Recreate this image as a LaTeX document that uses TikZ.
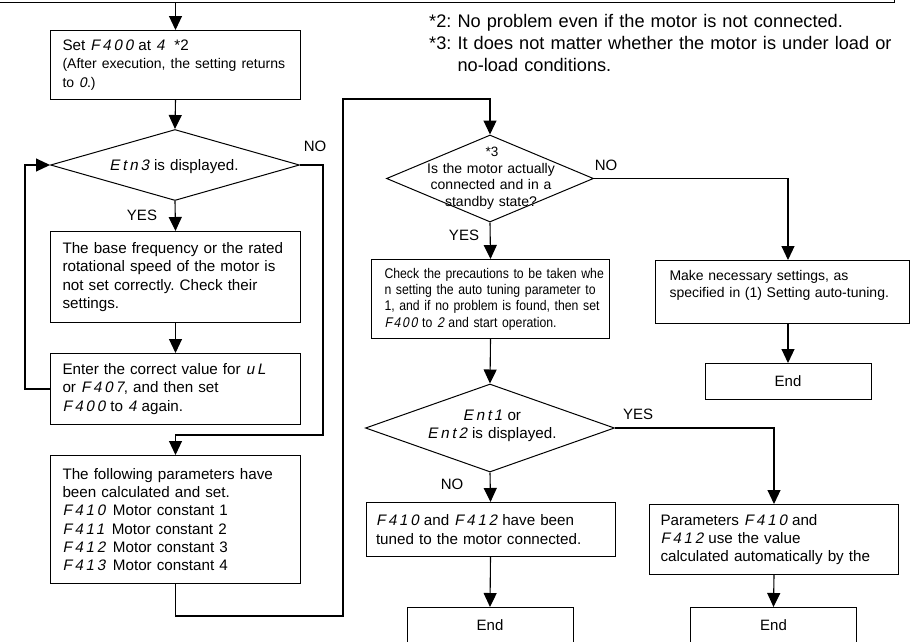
\documentclass[tikz,border=0pt]{standalone}
\usepackage{fontspec}
\setmainfont{Liberation Sans}
\newfontfamily\segfont[FakeSlant=0.2,LetterSpace=18]{Liberation Sans}
\newfontfamily\segnarrow[FakeSlant=0.2,LetterSpace=12,FakeStretch=0.875]{Liberation Sans}
\newfontfamily\narrowfont[FakeStretch=0.875]{Liberation Sans}
\usetikzlibrary{shapes.geometric,arrows.meta,calc}
\frenchspacing
\newcommand\sg[1]{{\segfont #1}}
\newcommand\sgn[1]{{\segnarrow #1}}
\tikzset{
  bx/.style={draw, line width=1pt, inner xsep=0pt, inner ysep=0pt, align=left, anchor=north west, font=\fontsize{15.2}{18.3}\selectfont},
  lpad/.style={execute at begin node={\leftskip=#1pt\relax}},
  dia/.style={draw, diamond, line width=1pt, inner sep=0pt},
  endbox/.style={draw, line width=1pt, minimum width=166pt, minimum height=36pt, inner sep=0pt, font=\fontsize{15}{18}\selectfont},
  conn/.style={line width=1.1pt, -{Triangle[length=14pt,width=13pt]}},
  lbl/.style={font=\fontsize{15}{18}\selectfont, inner sep=0pt},
  dtxt/.style={font=\fontsize{15.2}{18}\selectfont, inner sep=0pt, align=center, text width=220pt, anchor=base},
}
\begin{document}
\begin{tikzpicture}[x=1pt,y=-1pt]
\useasboundingbox (0,0) rectangle (910,641);
\clip (0,0) rectangle (910,641);

% top box (cut off)
\node[draw, line width=1pt, minimum width=899pt, minimum height=40pt, anchor=south west, inner sep=0pt] (top) at (-5,2.5) {};

% footnotes
\node[inner sep=0pt, anchor=base west, text width=480pt, align=left, font=\fontsize{18.2}{22}\selectfont] (notes) at (429,27) {{*}2: No problem even if the motor is not connected.\\{*}3: It does not matter whether the motor is under load or\\\phantom{{*}3:\ }no-load conditions.};

% left column
\node[bx, lpad=12, text width=250pt, minimum height=68.5pt] (b1) at (50,30) {{\fontsize{15.2}{18.5}\selectfont Set \sg{F400} at \sg{4}\hspace{10pt}*2}\\\fontsize{14}{18.5}\selectfont (After execution, the setting returns\\to \sg{0}.)};
\node[dia, minimum width=249pt, minimum height=71pt] (d1) at (175,165) {};
\node[dtxt] (d1t) at (174,170) {\sg{Etn3} is displayed.};
\node[bx, lpad=12, text width=250pt, minimum height=91pt] (b2) at (50,231) {The base frequency or the rated\\rotational speed of the motor is\\not set correctly. Check their\\settings.};
\node[bx, lpad=12, text width=250pt, minimum height=71pt] (b3) at (50,353) {Enter the correct value for \sg{uL}\\or \sg{F407}, and then set\\\sg{F400} to \sg{4} again.};
\node[bx, lpad=12, text width=250pt, minimum height=128pt] (b4) at (50,455) {The following parameters have\\been calculated and set.\\\sg{F410}\enspace Motor constant 1\\\sg{F411}\enspace Motor constant 2\\\sg{F412}\enspace Motor constant 3\\\sg{F413}\enspace Motor constant 4};

% right part
\node[dia, minimum width=207pt, minimum height=87pt] (d2) at (490,178.5) {};
\node[lbl, font=\fontsize{13.5}{16}\selectfont] (d2s) at (492,152) {*3};
\node[dtxt, font=\fontsize{14}{16.3}\selectfont, text width=170pt] (d2t) at (491,173.5) {Is the motor actually\\connected and in a\\standby state?};
\node[bx, lpad=13, text width=238pt, minimum height=79pt, font=\narrowfont\fontsize{14}{16.3}\selectfont] (b5) at (371,259) {Check the precautions to be taken whe\\n setting the auto tuning parameter to\\1, and if no problem is found, then set\\\sgn{F400} to \sgn{2} and start operation.};
\node[bx, lpad=14, text width=254pt, minimum height=63pt, font=\fontsize{14}{17}\selectfont] (b6) at (655,260) {Make necessary settings, as\\specified in (1) Setting auto-tuning.\\\mbox{}};
\node[endbox] (e1) at (788,381.5) {End};
\node[dia, minimum width=249pt, minimum height=88pt] (d3) at (490,428) {};
\node[dtxt] (d3t) at (492,420) {\sg{Ent1} or\\\sg{Ent2} is displayed.};
\node[bx, lpad=10, text width=249pt, minimum height=54pt] (b7) at (365.5,502) {\sg{F410} and \sg{F412} have been\\tuned to the motor connected.};
\node[bx, lpad=11, text width=249pt, minimum height=70pt] (b8) at (649,504) {Parameters \sg{F410} and\\\sg{F412} use the value\\calculated automatically by the};
\node[endbox] (e2) at (490,625.5) {End};
\node[endbox] (e3) at (773.5,625.5) {End};

% labels
\node[lbl] (no1) at (315,146) {NO};
\node[lbl] (yes1) at (142,215) {YES};
\node[lbl] (no2) at (606,165) {NO};
\node[lbl] (yes2) at (464,235) {YES};
\node[lbl] (yes3) at (638,414) {YES};
\node[lbl] (no3) at (452,484) {NO};

% connectors
\coordinate (c1) at (323,435);
\coordinate (c2) at (343,616);
\coordinate (c3) at (343,99);
\draw[conn] (b1.north |- top.south) -- (b1.north);
\draw[conn] (b1.south) -- (d1.north);
\draw[conn] (d1.south) -- (b2.north);
\draw[conn] (b2.south) -- (b3.north);
\draw[conn] (b3.west) -- ++(-25,0) |- (d1.west);
\draw[conn] (d1.east) -| (c1) -| (b4.north);
\draw[conn] (b4.south) |- (c2) -- (c3) -| (d2.north);
\draw[conn] (d2.south) -- (b5.north);
\draw[conn] (d2.east) -| (e1.north |- b6.north);
\draw[conn] (e1.north |- b6.south) -- (e1.north);
\draw[conn] (b5.south) -- (d3.north);
\draw[conn] (d3.south) -- (b7.north);
\draw[conn] (d3.east) -| (b8.north);
\draw[conn] (b7.south) -- (e2.north);
\draw[conn] (b8.south) -- (e3.north);
\end{tikzpicture}
\end{document}
